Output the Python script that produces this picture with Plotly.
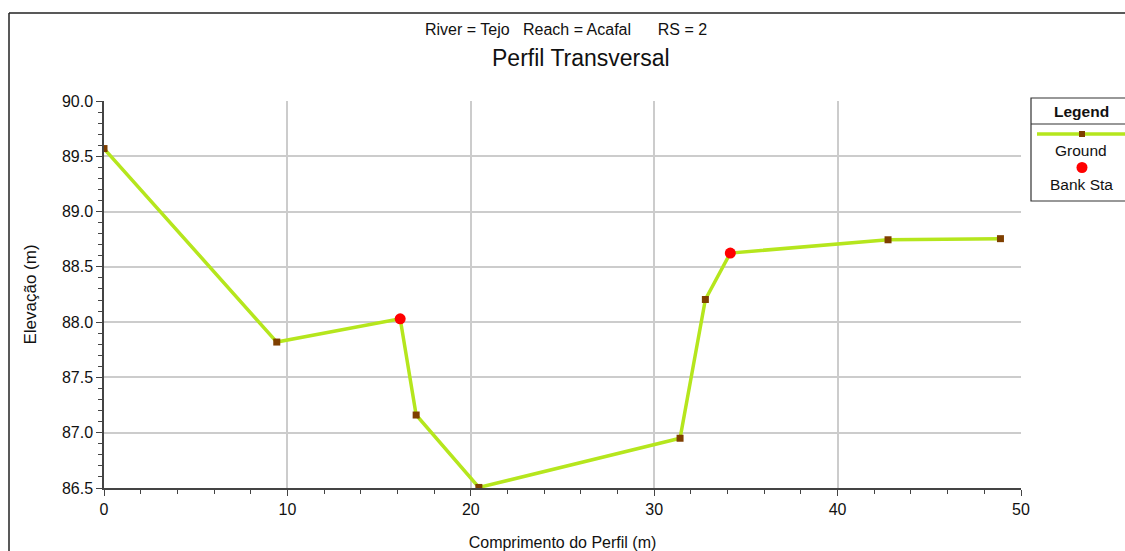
import plotly.graph_objects as go

station = [0.0, 9.42, 16.15, 17.02, 20.44, 31.41, 32.79, 34.15, 42.75, 48.88]
elevation = [89.57, 87.82, 88.03, 87.16, 86.505, 86.95, 88.205, 88.625, 88.745, 88.755]
bank_station = [16.15, 34.15]
bank_elev = [88.03, 88.625]

W, H = 1125, 551
L, R, T, B = 104, 104, 101, 63
pw, ph = W - L - R, H - T - B

def px(x):
    return (x - L) / pw

def py(y):
    return 1 - (y - T) / ph

font = "Liberation Sans, Arial, sans-serif"
fig = go.Figure()
fig.add_trace(go.Scatter(x=station, y=elevation, mode="lines+markers", name="Ground",
                         line=dict(color="#b5e61d", width=3.5),
                         marker=dict(symbol="square", size=7, color="#7f3f00"),
                         showlegend=False))
fig.add_trace(go.Scatter(x=bank_station, y=bank_elev, mode="markers", name="Bank Sta",
                         marker=dict(symbol="circle", size=11, color="#ff0000"),
                         showlegend=False))

axis_common = dict(showline=True, linecolor="#444444", linewidth=1.5, ticks="outside",
                   ticklen=6, tickcolor="#444444", showgrid=True, gridcolor="#cccccc",
                   gridwidth=1.5, zeroline=False, mirror=False,
                   tickfont=dict(family=font, size=16, color="#111111"))
fig.update_xaxes(range=[0, 50], dtick=10, **axis_common,
                 minor=dict(dtick=2, ticks="outside", ticklen=4, tickcolor="#444444", showgrid=False),
                 title=dict(text="Comprimento do Perfil (m)", font=dict(family=font, size=16, color="#111111"), standoff=22))
fig.update_yaxes(range=[86.5, 90.0], dtick=0.5, tickformat=".1f", **axis_common,
                 minor=dict(dtick=0.1, ticks="outside", ticklen=4, tickcolor="#444444", showgrid=False),
                 title=dict(text="Elevação (m)", font=dict(family=font, size=17, color="#111111"), standoff=21))

shapes = []
# outer frame
shapes.append(dict(type="line", xref="paper", yref="paper", x0=px(9), x1=px(1125), y0=py(13), y1=py(13),
                   line=dict(color="#222222", width=1.5)))
shapes.append(dict(type="line", xref="paper", yref="paper", x0=px(9), x1=px(9), y0=py(13), y1=py(551),
                   line=dict(color="#222222", width=1.5)))
# legend box
shapes.append(dict(type="rect", xref="paper", yref="paper", x0=px(1031), x1=px(1130), y0=py(98), y1=py(201),
                   line=dict(color="#333333", width=1.2), fillcolor="white"))
shapes.append(dict(type="line", xref="paper", yref="paper", x0=px(1031), x1=px(1130), y0=py(124), y1=py(124),
                   line=dict(color="#333333", width=1.2)))
shapes.append(dict(type="line", xref="paper", yref="paper", x0=px(1037), x1=px(1125), y0=py(134), y1=py(134),
                   line=dict(color="#b5e61d", width=3.5)))
shapes.append(dict(type="rect", xref="paper", yref="paper", x0=px(1079), x1=px(1085), y0=py(131), y1=py(137),
                   line=dict(width=0), fillcolor="#7f3f00"))
shapes.append(dict(type="circle", xref="paper", yref="paper", x0=px(1076.5), x1=px(1087.5), y0=py(162), y1=py(173),
                   line=dict(width=0), fillcolor="#ff0000"))

annotations = [
    dict(text="River = Tejo   Reach = Acafal      RS = 2", xref="paper", yref="paper",
         x=px(566), y=py(29), showarrow=False, font=dict(family=font, size=16, color="#111111"),
         xanchor="center", yanchor="middle"),
    dict(text="Perfil Transversal", xref="paper", yref="paper",
         x=px(581), y=py(58), showarrow=False, font=dict(family=font, size=23, color="#111111"),
         xanchor="center", yanchor="middle"),
    dict(text="<b>Legend</b>", xref="paper", yref="paper", x=px(1081), y=py(112), showarrow=False,
         font=dict(family=font, size=15.5, color="#111111"), xanchor="center", yanchor="middle"),
    dict(text="Ground", xref="paper", yref="paper", x=px(1081), y=py(150), showarrow=False,
         font=dict(family=font, size=15.5, color="#111111"), xanchor="center", yanchor="middle"),
    dict(text="Bank Sta", xref="paper", yref="paper", x=px(1081), y=py(184), showarrow=False,
         font=dict(family=font, size=15.5, color="#111111"), xanchor="center", yanchor="middle"),
]

fig.update_layout(width=W, height=H, margin=dict(l=L, r=R, t=T, b=B, autoexpand=False),
                  paper_bgcolor="white", plot_bgcolor="white", shapes=shapes, annotations=annotations,
                  showlegend=False)
fig.write_html("out.html")
